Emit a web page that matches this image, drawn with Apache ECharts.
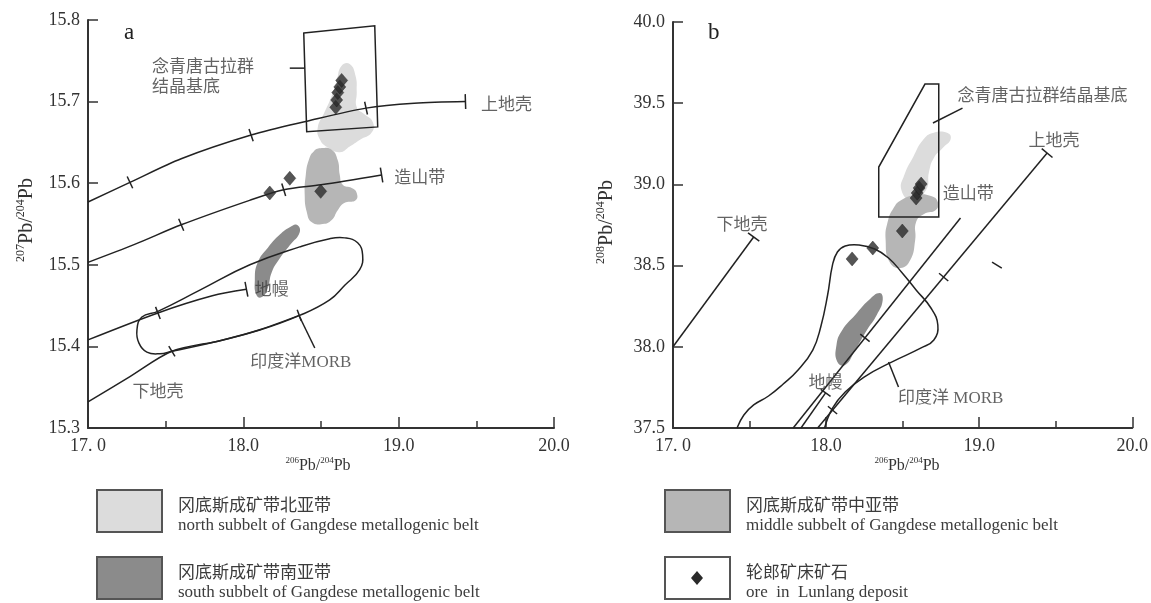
<!DOCTYPE html>
<html><head><meta charset="utf-8">
<script src="https://cdn.jsdelivr.net/npm/echarts@6/dist/echarts.min.js"></script>
<style>html,body{margin:0;padding:0;background:#fff}#c{width:1151px;height:603px}</style>
</head><body><div id="c"></div>
<script>
const FONT = "'Liberation Serif','Noto Sans CJK SC',serif";

// ---------- tick labels ----------
const xTickLabelsA = ['17. 0', '18.0', '19.0', '20.0'];
const yTickLabelsA = ['15.3', '15.4', '15.5', '15.6', '15.7', '15.8'];
const xTickLabelsB = ['17. 0', '18.0', '19.0', '20.0'];
const yTickLabelsB = ['37.5', '38.0', '38.5', '39.0', '39.5', '40.0'];

// ---------- panel a : 206Pb/204Pb vs 207Pb/204Pb ----------
const upperCrustA = [[17.0,15.577],[17.27,15.601],[17.6,15.630],[18.05,15.659],[18.41,15.676],[18.79,15.692],[19.1,15.698],[19.43,15.700]];
const upperCrustTicksA = [[17.27,15.601],[18.05,15.659],[18.79,15.692]];
const upperCrustEndA = [[19.43,15.700]];
const orogeneA = [[17.0,15.503],[17.3,15.525],[17.6,15.549],[18.04,15.579],[18.26,15.592],[18.5,15.598],[18.89,15.610]];
const orogeneTicksA = [[17.6,15.549],[18.26,15.592]];
const orogeneEndA = [[18.89,15.610]];
const mantleA = [[17.0,15.408],[17.45,15.441],[17.8,15.462],[18.02,15.470]];
const mantleTicksA = [[17.45,15.441]];
const mantleEndA = [[18.02,15.470]];
const lowerCrustA = [[17.0,15.332],[17.27,15.363],[17.54,15.394],[17.85,15.407],[18.1,15.420],[18.36,15.438]];
const lowerCrustTicksA = [[17.54,15.394],[18.36,15.438]];
const morbA = [[17.347,15.436],[17.315,15.420],[17.328,15.404],[17.379,15.393],[17.463,15.391],[17.540,15.394],[17.849,15.407],[18.106,15.420],[18.363,15.438],[18.556,15.457],[18.653,15.475],[18.749,15.494],[18.768,15.512],[18.736,15.527],[18.653,15.533],[18.556,15.532],[18.363,15.522],[18.042,15.500],[17.720,15.469],[17.450,15.443]];
const basementA = [[18.389,15.784],[18.846,15.793],[18.865,15.669],[18.408,15.663]];
const northFieldA = [[18.633,15.744],[18.685,15.746],[18.723,15.731],[18.730,15.712],[18.730,15.693],[18.775,15.685],[18.833,15.675],[18.826,15.662],[18.749,15.653],[18.685,15.645],[18.621,15.638],[18.543,15.644],[18.492,15.654],[18.479,15.668],[18.518,15.685],[18.563,15.704],[18.601,15.726]];
const middleFieldA = [[18.505,15.643],[18.569,15.641],[18.608,15.628],[18.621,15.610],[18.640,15.598],[18.698,15.594],[18.730,15.588],[18.723,15.579],[18.653,15.576],[18.608,15.567],[18.569,15.555],[18.511,15.550],[18.441,15.552],[18.408,15.565],[18.395,15.586],[18.402,15.610],[18.421,15.628],[18.453,15.639]];
const southFieldA = [[18.344,15.549],[18.363,15.540],[18.299,15.524],[18.235,15.508],[18.183,15.491],[18.158,15.472],[18.125,15.461],[18.087,15.462],[18.074,15.481],[18.093,15.503],[18.158,15.521],[18.235,15.537],[18.299,15.546]];
const oreA = [[18.595,15.693],[18.601,15.702],[18.608,15.711],[18.621,15.718],[18.633,15.726],[18.170,15.588],[18.299,15.606],[18.498,15.590]];
const leadersA = [[[18.299,15.741],[18.395,15.741]], [[18.363,15.436],[18.460,15.398]]];
const labelsA = [[19.695,15.695,'上地壳','c'],[19.135,15.606,'造山带','c'],[18.183,15.469,'地幔','c'],[18.37,15.380,'印度洋MORB','c'],[17.450,15.344,'下地壳','c'],[17.412,15.729,'念青唐古拉群\n结晶基底','l']];

// ---------- panel b : 206Pb/204Pb vs 208Pb/204Pb ----------
const lowerCrustB = [[17.0,38.0],[17.527,38.676]];
const lowerCrustEndB = [[17.527,38.676]];
const orogeneB = [[17.785,37.5],[18.878,38.793]];
const orogeneTicksB = [[18.254,38.055]];
const upperCrustB = [[17.945,37.5],[19.444,39.193]];
const upperCrustTicksB = [[18.042,37.610],[18.768,38.429]];
const upperCrustEndB = [[19.444,39.193]];
const mantleB = [[17.836,37.5],[17.997,37.716]];
const mantleEndB = [[17.997,37.716]];
const morbB = [[17.418,37.500],[17.463,37.580],[17.527,37.642],[17.624,37.697],[17.720,37.771],[17.817,37.857],[17.913,37.980],[17.965,38.122],[18.010,38.319],[18.042,38.504],[18.074,38.584],[18.125,38.621],[18.215,38.627],[18.318,38.602],[18.408,38.547],[18.492,38.461],[18.588,38.350],[18.685,38.239],[18.730,38.134],[18.704,38.042],[18.621,37.993],[18.428,37.906],[18.248,37.814],[18.125,37.722],[18.042,37.623],[17.990,37.500]];
const basementB = [[18.646,39.618],[18.736,39.618],[18.736,38.799],[18.344,38.799],[18.344,39.107]];
const northFieldB = [[18.633,39.273],[18.698,39.316],[18.794,39.316],[18.814,39.280],[18.768,39.230],[18.704,39.163],[18.672,39.076],[18.653,38.966],[18.556,38.904],[18.492,38.966],[18.511,39.058],[18.569,39.169]];
const middleFieldB = [[18.492,38.904],[18.588,38.935],[18.685,38.929],[18.730,38.892],[18.717,38.842],[18.640,38.818],[18.588,38.768],[18.582,38.658],[18.550,38.534],[18.486,38.485],[18.415,38.522],[18.389,38.658],[18.402,38.768],[18.441,38.855]];
const southFieldB = [[18.350,38.331],[18.370,38.288],[18.331,38.196],[18.267,38.103],[18.190,37.980],[18.125,37.888],[18.074,37.906],[18.068,38.011],[18.106,38.103],[18.190,38.196],[18.280,38.288]];
const oreB = [[18.588,38.916],[18.595,38.947],[18.608,38.978],[18.621,39.002],[18.498,38.713],[18.305,38.608],[18.170,38.541]];
const leadersB = [[[18.698,39.378],[18.891,39.470]], [[18.408,37.906],[18.473,37.752]], [[19.084,38.522],[19.148,38.485]]];
const labelsB = [[17.450,38.744,'下地壳','c'],[19.489,39.261,'上地壳','c'],[18.929,38.935,'造山带','c'],[17.997,37.771,'地幔','c'],[18.814,37.679,'印度洋 MORB','c'],[18.859,39.538,'念青唐古拉群结晶基底','l']];

// ---------- legend ----------
const legendCN = ['冈底斯成矿带北亚带', '冈底斯成矿带南亚带', '冈底斯成矿带中亚带', '轮郎矿床矿石'];
const legendEN = ['north subbelt of Gangdese metallogenic belt', 'south subbelt of Gangdese metallogenic belt', 'middle subbelt of Gangdese metallogenic belt', 'ore  in  Lunlang deposit'];

const C_LINE = '#222';
const C_TEXT = '#3c3c3c';
const C_NORTH = '#dcdcdc', C_MIDDLE = '#b6b6b6', C_SOUTH = '#8b8b8b';

function shapeSeries(gi, pts, kind, style, smooth, z) {
  return {
    type: 'custom', xAxisIndex: gi, yAxisIndex: gi, data: pts, silent: true, z: z,
    renderItem: function (params, api) {
      if (params.dataIndex !== 0) return null;
      const p = pts.map(function (d) { return api.coord(d); });
      return { type: kind, shape: { points: p, smooth: smooth || 0 }, style: style };
    }
  };
}
function curve(gi, pts, smooth) {
  return shapeSeries(gi, pts, 'polyline', { stroke: C_LINE, lineWidth: 1.5, fill: null }, smooth, 4);
}
function field(gi, pts, color) {
  return shapeSeries(gi, pts, 'polygon', { fill: color, stroke: null }, 0.5, 2);
}
function tickSeries(gi, curvePts, ticks, len) {
  return {
    type: 'custom', xAxisIndex: gi, yAxisIndex: gi, data: ticks, silent: true, z: 4,
    renderItem: function (params, api) {
      const t = ticks[params.dataIndex];
      const p = api.coord(t);
      const c = curvePts.map(function (d) { return api.coord(d); });
      let best = Infinity, dir = [1, 0];
      for (let i = 0; i < c.length - 1; i++) {
        const a = c[i], b = c[i + 1];
        const dx = b[0] - a[0], dy = b[1] - a[1];
        const L2 = dx * dx + dy * dy;
        let u = ((p[0] - a[0]) * dx + (p[1] - a[1]) * dy) / L2;
        u = Math.max(0, Math.min(1, u));
        const qx = a[0] + u * dx, qy = a[1] + u * dy;
        const d = (p[0] - qx) * (p[0] - qx) + (p[1] - qy) * (p[1] - qy);
        if (d < best) { best = d; const L = Math.sqrt(L2); dir = [dx / L, dy / L]; }
      }
      const n = [-dir[1], dir[0]], h = len / 2;
      return { type: 'line', shape: { x1: p[0] - n[0] * h, y1: p[1] - n[1] * h, x2: p[0] + n[0] * h, y2: p[1] + n[1] * h },
               style: { stroke: C_LINE, lineWidth: 1.5 } };
    }
  };
}
function labelSeries(gi, labels) {
  return {
    type: 'scatter', xAxisIndex: gi, yAxisIndex: gi, symbolSize: 0, silent: true, z: 6,
    data: labels.map(function (l) {
      return { value: [l[0], l[1]], label: { formatter: l[2], position: l[3] === 'l' ? 'right' : 'inside', distance: 0, align: l[3] === 'l' ? 'left' : 'center' } };
    }),
    label: { show: true, fontFamily: FONT, fontSize: 17, color: C_TEXT, lineHeight: 20 }
  };
}
function oreSeries(gi, pts) {
  return { type: 'scatter', xAxisIndex: gi, yAxisIndex: gi, data: pts, symbol: 'diamond', symbolSize: [12, 14],
           itemStyle: { color: '#2a2a2a', borderColor: '#1a1a1a', borderWidth: 0.5 }, z: 8, silent: true };
}

function xAxis(gi, labels) {
  return {
    gridIndex: gi, type: 'value', min: 17, max: 20, interval: 1,
    axisLine: { show: true, onZero: false, lineStyle: { color: '#333', width: 2 } },
    axisTick: { show: true, inside: true, length: 11, lineStyle: { color: '#333', width: 1.5 } },
    minorTick: { show: true, splitNumber: 2, length: 7, lineStyle: { color: '#333', width: 1.5 } },
    splitLine: { show: false }, minorSplitLine: { show: false },
    axisLabel: { fontFamily: FONT, fontSize: 18, color: '#333', margin: 9,
      formatter: function (v) { return labels[Math.round(v - 17)] || ''; } }
  };
}
function yAxis(gi, min, max, step, labels) {
  return {
    gridIndex: gi, type: 'value', min: min, max: max, interval: step,
    axisLine: { show: true, onZero: false, lineStyle: { color: '#333', width: 2 } },
    axisTick: { show: true, inside: true, length: 10, lineStyle: { color: '#333', width: 1.5 } },
    splitLine: { show: false },
    axisLabel: { fontFamily: FONT, fontSize: 18, color: '#333', margin: 8,
      formatter: function (v) { return labels[Math.round((v - min) / step)] || ''; } }
  };
}

function richFor(big, small) {
  return {
    s: { fontFamily: FONT, fontSize: small, lineHeight: small + 1, verticalAlign: 'top', fill: '#333', color: '#333' },
    n: { fontFamily: FONT, fontSize: big, lineHeight: big + 4, fill: '#333', color: '#333' }
  };
}
function axisTitle(x, y, a, b, rot, big, small) {
  return { type: 'text', x: x, y: y, rotation: rot || 0, silent: true,
    style: { text: '{s|' + a + '}{n|Pb/}{s|' + b + '}{n|Pb}', rich: richFor(big, small), align: 'center', verticalAlign: 'middle' } };
}

const legendPos = [[97, 490, C_NORTH], [97, 557, C_SOUTH], [665, 490, C_MIDDLE], [665, 557, '#fff']];
const graphics = [
  { type: 'text', x: 124, y: 33, silent: true, style: { text: 'a', fontFamily: FONT, fontSize: 23, fill: '#222', align: 'left', verticalAlign: 'middle' } },
  { type: 'text', x: 708, y: 33, silent: true, style: { text: 'b', fontFamily: FONT, fontSize: 23, fill: '#222', align: 'left', verticalAlign: 'middle' } },
  axisTitle(318, 466, '206', '204', 0, 16, 9),
  axisTitle(907, 466, '206', '204', 0, 16, 9),
  axisTitle(27, 220, '207', '204', Math.PI / 2, 20, 12),
  axisTitle(607, 222, '208', '204', Math.PI / 2, 20, 12)
];
legendPos.forEach(function (p, i) {
  graphics.push({ type: 'rect', silent: true, shape: { x: p[0], y: p[1], width: 65, height: 42 }, style: { fill: p[2], stroke: '#555', lineWidth: 2 } });
  graphics.push({ type: 'text', silent: true, x: p[0] + 81, y: p[1] + 26,
    style: { text: legendCN[i] + '\n' + legendEN[i], fontFamily: FONT, fontSize: 17, lineHeight: 19, fill: C_TEXT, align: 'left', verticalAlign: 'middle' } });
});
graphics.push({ type: 'polygon', silent: true, shape: { points: [[697, 571], [703, 578], [697, 585], [691, 578]] }, style: { fill: '#2a2a2a' } });

const series = [
  field(0, northFieldA, C_NORTH), field(0, middleFieldA, C_MIDDLE), field(0, southFieldA, C_SOUTH),
  curve(0, upperCrustA, 0.3), curve(0, orogeneA, 0.3), curve(0, mantleA, 0.3), curve(0, lowerCrustA, 0.3),
  shapeSeries(0, morbA, 'polygon', { stroke: C_LINE, lineWidth: 1.5, fill: null }, 0.45, 4),
  shapeSeries(0, basementA, 'polygon', { stroke: C_LINE, lineWidth: 1.5, fill: null }, 0, 4),
  tickSeries(0, upperCrustA, upperCrustTicksA, 13), tickSeries(0, upperCrustA, upperCrustEndA, 15),
  tickSeries(0, orogeneA, orogeneTicksA, 13), tickSeries(0, orogeneA, orogeneEndA, 15),
  tickSeries(0, mantleA, mantleTicksA, 13), tickSeries(0, mantleA, mantleEndA, 15),
  tickSeries(0, lowerCrustA, lowerCrustTicksA, 12),
  curve(0, leadersA[0], 0), curve(0, leadersA[1], 0),
  oreSeries(0, oreA), labelSeries(0, labelsA),

  field(1, northFieldB, C_NORTH), field(1, middleFieldB, C_MIDDLE), field(1, southFieldB, C_SOUTH),
  curve(1, lowerCrustB, 0), curve(1, orogeneB, 0), curve(1, upperCrustB, 0), curve(1, mantleB, 0),
  curve(1, morbB, 0.45),
  shapeSeries(1, basementB, 'polygon', { stroke: C_LINE, lineWidth: 1.5, fill: null }, 0, 4),
  tickSeries(1, lowerCrustB, lowerCrustEndB, 14), tickSeries(1, orogeneB, orogeneTicksB, 12),
  tickSeries(1, upperCrustB, upperCrustTicksB, 12), tickSeries(1, upperCrustB, upperCrustEndB, 14),
  tickSeries(1, mantleB, mantleEndB, 12),
  curve(1, leadersB[0], 0), curve(1, leadersB[1], 0), curve(1, leadersB[2], 0),
  oreSeries(1, oreB), labelSeries(1, labelsB)
];

const chart = echarts.init(document.getElementById('c'), null, { renderer: 'canvas' });
chart.setOption({
  animation: false,
  backgroundColor: '#fff',
  grid: [
    { left: 88, top: 20, width: 466, height: 408 },
    { left: 673, top: 22, width: 466, height: 406 }
  ],
  xAxis: [xAxis(0, xTickLabelsA), xAxis(1, xTickLabelsB)],
  yAxis: [yAxis(0, 15.3, 15.8, 0.1, yTickLabelsA), yAxis(1, 37.5, 40, 0.5, yTickLabelsB)],
  graphic: graphics,
  series: series
});
</script>
</body></html>
